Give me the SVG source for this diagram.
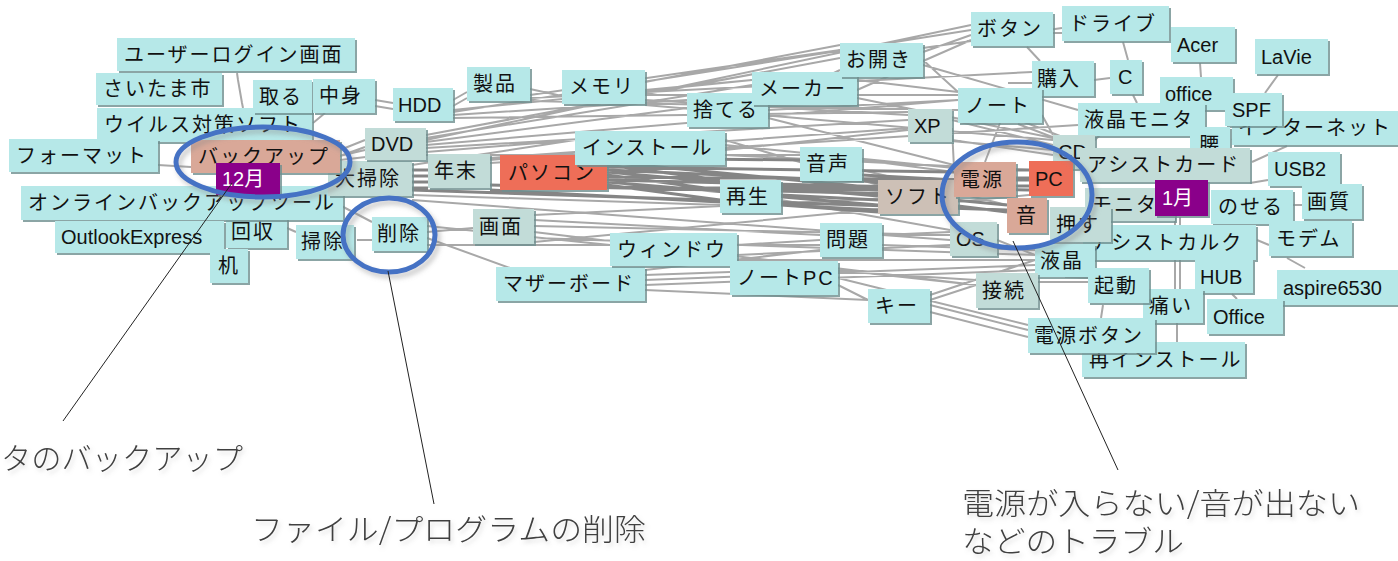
<svg xmlns="http://www.w3.org/2000/svg" width="1398" height="561" viewBox="0 0 1398 561">
<defs>
<filter id="bev" x="-5%" y="-5%" width="115%" height="130%">
<feOffset in="SourceAlpha" dx="1.5" dy="1.5" result="o"/>
<feFlood flood-color="#6f8f8f" flood-opacity="0.8"/>
<feComposite in2="o" operator="in" result="s"/>
<feMerge><feMergeNode in="s"/><feMergeNode in="SourceGraphic"/></feMerge>
</filter>
<filter id="esh" x="-10%" y="-10%" width="130%" height="140%">
<feGaussianBlur in="SourceAlpha" stdDeviation="2.5" result="b"/>
<feOffset in="b" dx="3" dy="4" result="o"/>
<feFlood flood-color="#888" flood-opacity="0.45"/>
<feComposite in2="o" operator="in" result="s"/>
<feMerge><feMergeNode in="s"/><feMergeNode in="SourceGraphic"/></feMerge>
</filter>
<filter id="tsh" x="-5%" y="-20%" width="110%" height="160%">
<feGaussianBlur in="SourceAlpha" stdDeviation="2" result="b"/>
<feOffset in="b" dx="2" dy="3" result="o"/>
<feFlood flood-color="#999" flood-opacity="0.35"/>
<feComposite in2="o" operator="in" result="s"/>
<feMerge><feMergeNode in="s"/><feMergeNode in="SourceGraphic"/></feMerge>
</filter>
</defs>
<style>
rect.c{fill:#b6e8e8;filter:url(#bev)}
rect.g{fill:#c2dcd8;filter:url(#bev)}
rect.s{fill:#d9a898;filter:url(#bev)}
rect.t{fill:#cdc0b6;filter:url(#bev)}
rect.r{fill:#ee6e58;filter:url(#bev)}
rect.p{fill:#8a008a;filter:url(#bev)}
text.l{font-family:"Liberation Sans","Noto Sans CJK JP",sans-serif;font-size:20px;fill:#111}
text.j{letter-spacing:2px}
text.w{fill:#fff}
.c1{fill:none;stroke:#a8a8a8;stroke-width:2}
.c2{fill:none;stroke:#858585;stroke-width:3}
.el{fill:none;stroke:#4472c4;stroke-width:5;filter:url(#esh)}
.cl{fill:none;stroke:#222;stroke-width:1}
text.a{font-family:"Noto Sans CJK JP",sans-serif;font-size:30px;font-weight:300;fill:#404040}
</style>
<rect x="0" y="0" width="1398" height="561" fill="#fff"/>

<g id="connectors">
<path class="c1" d="M237 73 L238 80 L242 103 L243 108 M158 165 L191 167 M325 113 L313 123 M375 100 L393 103 M375 106 L393 109 M340 150 L365 140 M340 156 L365 147 M357 240 L372 240 M330 200 L372 222 M427 232 L473 228 M427 238 L510 268 M427 226 L610 245 M287 228 L296 232 M453 100 L467 92 M453 106 L467 98 M530 89 L562 96 M426 135 L840 58 M426 138 L752 85 M426 142 L687 108 M426 145 L958 100 M426 148 L908 120 M426 152 L575 140 M453 110 L752 80 M453 112 L971 30 M453 115 L687 100 M530 95 L840 50 M530 98 L1032 72 M645 90 L752 80 M645 95 L958 95 M645 100 L908 115 M645 82 L840 45 M768 105 L840 70 M768 110 L958 100 M857 80 L958 92 M857 90 L971 40 M923 52 L971 35 M923 60 L958 92 M923 65 L1078 110 M923 48 L1062 28 M952 120 L1053 145 M952 128 L954 168 M725 140 L878 185 M725 145 L954 168 M725 150 L908 130 M725 155 L1029 170 M862 160 L954 172 M862 170 L1007 205 M781 190 L878 195 M781 200 L950 230 M534 220 L820 235 M534 226 L950 235 M534 232 L976 285 M534 238 L1035 255 M534 215 L954 195 M737 245 L820 240 M737 255 L950 245 M737 260 L1035 260 M645 275 L730 272 M645 280 L1035 265 M645 290 L868 300 M645 270 L820 250 M882 235 L950 232 M882 245 L1035 250 M838 270 L976 285 M838 278 L1028 325 M838 285 L868 300 M930 300 L976 285 M930 305 L1028 330 M930 312 L1028 337 M930 295 L1035 260 M1038 282 L1088 282 M1065 277 L1088 278 M1008 83 L1032 83 M1027 47 L1040 61 M1053 33 L1062 33 M1123 42 L1128 60 M1094 80 L1110 78 M1133 95 L1137 103 M1018 124 L1055 138 M1024 122 L1060 136 M1200 63 L1201 77 M1278 75 L1265 93 M1245 126 L1232 140 M1287 146 L1252 162 M1250 183 L1268 180 M1293 205 L1302 205 M1257 240 L1269 245 M1287 258 L1305 268 M1232 294 L1237 299 M1175 217 L1175 225 M1180 217 L1180 225 M1175 260 L1175 289 M1180 260 L1180 289 M1177 323 L1177 342 M1103 305 L1101 318 M997 240 L1035 255 M985 162 L1000 123 M1095 140 L1100 135 M340 160 L426 150 M280 170 L365 150 M412 165 L575 140 M490 158 L952 125 M490 160 L725 140 M412 195 L720 205 M426 140 L971 25 M453 118 L908 112 M530 101 L958 110 M645 105 L1053 140 M768 118 L954 165 M857 98 L1053 138 M426 155 L800 155 M490 163 L1078 125 M340 165 L412 170 M534 242 L1029 195 M737 265 L976 280 M645 285 L1035 270 M412 200 L950 240 M427 245 L820 245 M1042 115 L1053 135 M940 140 L1053 150 M952 140 L1053 155"/>
<path class="c2" d="M412 170 L428 170 M412 176 L428 176 M412 182 L428 182 M412 188 L428 188 M607 162 L878 188 M607 167 L954 172 M607 172 L878 196 M607 177 L1029 180 M607 182 L878 205 M607 187 L954 190 M607 158 L800 160 M412 190 L1007 210 M490 185 L954 195 M490 190 L878 210 M1016 170 L1029 170 M1016 178 L1029 178 M1016 186 L1029 186 M954 200 L1007 205 M958 206 L1007 212 M607 165 L720 180 M607 175 L720 190 M607 185 L720 200 M781 185 L878 190 M781 195 L878 200 M781 205 L878 212 M862 175 L954 180 M862 180 L878 183 M607 170 L954 185 M607 180 L1029 190"/>
</g>

<g id="n_ulogin"><rect class="c" x="117" y="38" width="238" height="33"/><text class="l j" x="124" y="62">ユーザーログイン画面</text></g>
<g id="n_saitama"><rect class="c" x="96" y="73" width="126" height="32"/><text class="l j" x="103" y="96">さいたま市</text></g>
<g id="n_virus"><rect class="c" x="97" y="108" width="215" height="34"/><text class="l j" x="104" y="132">ウイルス対策ソフト</text></g>
<g id="n_format"><rect class="c" x="9" y="139" width="149" height="33"/><text class="l j" x="16" y="163">フォーマット</text></g>
<g id="n_kaishu"><rect class="c" x="226" y="216" width="61" height="32"/><text class="l j" x="231" y="239">回収</text></g>
<g id="n_online"><rect class="c" x="21" y="186" width="322" height="34"/><text class="l j" x="28" y="210">オンラインバックアップツール</text></g>
<g id="n_daisouji"><rect class="g" x="328" y="161" width="84" height="35"/><text class="l j" x="335" y="186">大掃除</text></g>
<g id="n_backup"><rect class="s" x="191" y="140" width="149" height="33"/><text class="l j" x="198" y="164">バックアップ</text></g>
<g id="n_dec"><rect class="p" x="216" y="163" width="64" height="32"/><text class="l w" x="222" y="186">12月</text></g>
<g id="n_outlook"><rect class="c" x="55" y="221" width="169" height="32"/><text class="l" x="61" y="244">OutlookExpress</text></g>
<g id="n_tsukue"><rect class="c" x="210" y="249" width="38" height="34"/><text class="l j" x="218" y="273">机</text></g>
<g id="n_toru"><rect class="c" x="253" y="80" width="59" height="33"/><text class="l j" x="259" y="104">取る</text></g>
<g id="n_nakami"><rect class="c" x="313" y="79" width="62" height="34"/><text class="l j" x="319" y="103">中身</text></g>
<g id="n_hdd"><rect class="c" x="393" y="88" width="60" height="33"/><text class="l" x="398" y="112">HDD</text></g>
<g id="n_dvd"><rect class="g" x="365" y="128" width="61" height="32"/><text class="l" x="371" y="151">DVD</text></g>
<g id="n_souji"><rect class="c" x="296" y="225" width="58" height="34"/><text class="l j" x="301" y="249">掃除</text></g>
<g id="n_sakujo"><rect class="c" x="372" y="217" width="55" height="34"/><text class="l j" x="377" y="241">削除</text></g>
<g id="n_seihin"><rect class="c" x="467" y="67" width="63" height="34"/><text class="l j" x="473" y="91">製品</text></g>
<g id="n_memori"><rect class="c" x="562" y="70" width="83" height="34"/><text class="l j" x="569" y="94">メモリ</text></g>
<g id="n_nenmatsu"><rect class="g" x="428" y="154" width="62" height="34"/><text class="l j" x="434" y="178">年末</text></g>
<g id="n_pasokon"><rect class="r" x="500" y="155" width="107" height="35"/><text class="l j" x="508" y="180">パソコン</text></g>
<g id="n_gamen"><rect class="g" x="473" y="209" width="61" height="35"/><text class="l j" x="479" y="234">画面</text></g>
<g id="n_mother"><rect class="c" x="496" y="267" width="149" height="34"/><text class="l j" x="503" y="291">マザーボード</text></g>
<g id="n_window"><rect class="c" x="610" y="233" width="127" height="33"/><text class="l j" x="617" y="257">ウィンドウ</text></g>
<g id="n_install"><rect class="c" x="575" y="131" width="150" height="34"/><text class="l j" x="582" y="155">インストール</text></g>
<g id="n_suteru"><rect class="c" x="687" y="93" width="81" height="34"/><text class="l j" x="693" y="117">捨てる</text></g>
<g id="n_maker"><rect class="c" x="752" y="72" width="105" height="33"/><text class="l j" x="759" y="96">メーカー</text></g>
<g id="n_ohiraki"><rect class="c" x="840" y="43" width="83" height="34"/><text class="l j" x="846" y="67">お開き</text></g>
<g id="n_xp"><rect class="g" x="908" y="109" width="44" height="33"/><text class="l" x="914" y="133">XP</text></g>
<g id="n_onsei"><rect class="c" x="800" y="147" width="62" height="34"/><text class="l j" x="806" y="171">音声</text></g>
<g id="n_saisei"><rect class="c" x="720" y="180" width="61" height="33"/><text class="l j" x="726" y="204">再生</text></g>
<g id="n_soft"><rect class="t" x="878" y="180" width="80" height="34"/><text class="l j" x="885" y="204">ソフト</text></g>
<g id="n_mondai"><rect class="c" x="820" y="223" width="62" height="34"/><text class="l j" x="826" y="247">問題</text></g>
<g id="n_notepc"><rect class="c" x="730" y="261" width="108" height="34"/><text class="l j" x="737" y="285">ノートPC</text></g>
<g id="n_key"><rect class="c" x="868" y="289" width="62" height="34"/><text class="l j" x="875" y="313">キー</text></g>

<g id="n_button"><rect class="c" x="971" y="12" width="82" height="34"/><text class="l j" x="977" y="36">ボタン</text></g>
<g id="n_drive"><rect class="c" x="1062" y="6" width="107" height="35"/><text class="l j" x="1069" y="31">ドライブ</text></g>
<g id="n_kounyu"><rect class="c" x="1032" y="61" width="62" height="35"/><text class="l j" x="1037" y="86">購入</text></g>
<g id="n_c"><rect class="c" x="1110" y="60" width="32" height="34"/><text class="l" x="1118" y="84">C</text></g>
<g id="n_note"><rect class="c" x="958" y="88" width="84" height="35"/><text class="l j" x="965" y="113">ノート</text></g>
<g id="n_acer"><rect class="c" x="1171" y="27" width="64" height="35"/><text class="l" x="1177" y="52">Acer</text></g>
<g id="n_lavie"><rect class="c" x="1255" y="39" width="73" height="35"/><text class="l" x="1261" y="64">LaVie</text></g>
<g id="n_office"><rect class="c" x="1160" y="77" width="73" height="33"/><text class="l" x="1165" y="101">office</text></g>
<g id="n_lcdmon"><rect class="c" x="1078" y="103" width="127" height="33"/><text class="l j" x="1084" y="127">液晶モニタ</text></g>
<g id="n_internet"><rect class="c" x="1232" y="111" width="175" height="34"/><text class="l j" x="1238" y="135">インターネット</text></g>
<g id="n_spf"><rect class="c" x="1225" y="93" width="57" height="33"/><text class="l" x="1232" y="117">SPF</text></g>
<g id="n_koshi"><rect class="c" x="1190" y="127" width="40" height="34"/><text class="l j" x="1199" y="152">腰</text></g>
<g id="n_cd"><rect class="g" x="1053" y="135" width="42" height="34"/><text class="l" x="1058" y="159">CD</text></g>
<g id="n_assist"><rect class="g" x="1080" y="148" width="170" height="34"/><text class="l j" x="1087" y="172">アシストカード</text></g>
<g id="n_usb2"><rect class="c" x="1268" y="152" width="72" height="34"/><text class="l" x="1274" y="176">USB2</text></g>
<g id="n_monitor"><rect class="g" x="1085" y="188" width="90" height="33"/><text class="l j" x="1092" y="212">モニタ</text></g>
<g id="n_jan"><rect class="p" x="1155" y="180" width="53" height="36"/><text class="l w" x="1162" y="205">1月</text></g>
<g id="n_noseru"><rect class="c" x="1211" y="190" width="82" height="34"/><text class="l j" x="1218" y="214">のせる</text></g>
<g id="n_gashitsu"><rect class="c" x="1302" y="184" width="60" height="35"/><text class="l j" x="1307" y="209">画質</text></g>
<g id="n_assistcalc"><rect class="c" x="1083" y="225" width="173" height="35"/><text class="l j" x="1090" y="250">アシストカルク</text></g>
<g id="n_modem"><rect class="c" x="1269" y="221" width="83" height="35"/><text class="l j" x="1276" y="246">モデム</text></g>
<g id="n_os"><rect class="g" x="950" y="222" width="47" height="34"/><text class="l" x="956" y="246">OS</text></g>
<g id="n_dengen"><rect class="s" x="954" y="162" width="62" height="35"/><text class="l j" x="960" y="187">電源</text></g>
<g id="n_pc"><rect class="r" x="1029" y="161" width="44" height="35"/><text class="l" x="1035" y="186">PC</text></g>
<g id="n_oto"><rect class="s" x="1007" y="198" width="40" height="35"/><text class="l j" x="1016" y="223">音</text></g>
<g id="n_osu"><rect class="g" x="1050" y="207" width="61" height="35"/><text class="l j" x="1056" y="232">押す</text></g>
<g id="n_ekisho"><rect class="c" x="1035" y="244" width="60" height="33"/><text class="l j" x="1040" y="268">液晶</text></g>
<g id="n_hub"><rect class="c" x="1195" y="260" width="58" height="33"/><text class="l" x="1200" y="284">HUB</text></g>
<g id="n_aspire"><rect class="c" x="1277" y="270" width="121" height="35"/><text class="l" x="1283" y="295">aspire6530</text></g>
<g id="n_setsuzoku"><rect class="g" x="976" y="273" width="62" height="35"/><text class="l j" x="982" y="298">接続</text></g>
<g id="n_itai"><rect class="c" x="1143" y="289" width="60" height="34"/><text class="l j" x="1149" y="313">痛い</text></g>
<g id="n_kidou"><rect class="c" x="1088" y="268" width="61" height="35"/><text class="l j" x="1094" y="293">起動</text></g>
<g id="n_office2"><rect class="c" x="1207" y="299" width="76" height="35"/><text class="l" x="1213" y="324">Office</text></g>
<g id="n_reinstall"><rect class="c" x="1082" y="342" width="163" height="35"/><text class="l j" x="1089" y="367">再インストール</text></g>
<g id="n_dengenbutton"><rect class="c" x="1028" y="318" width="127" height="35"/><text class="l j" x="1034" y="343">電源ボタン</text></g>

<g id="highlights">
<ellipse class="el" cx="263" cy="162" rx="87" ry="35"/>
<ellipse class="el" cx="389" cy="235" rx="46" ry="37"/>
<ellipse class="el" cx="1017" cy="195" rx="75" ry="53"/>
</g>

<g id="callouts">
<line class="cl" x1="232" y1="183" x2="63" y2="421"/>
<line class="cl" x1="388" y1="271" x2="434" y2="504"/>
<line class="cl" x1="1013" y1="241" x2="1118" y2="470"/>
<text class="a" x="1" y="469" textLength="242" lengthAdjust="spacingAndGlyphs" filter="url(#tsh)">タのバックアップ</text>
<text class="a" x="251" y="540" textLength="395" lengthAdjust="spacingAndGlyphs" filter="url(#tsh)">ファイル/プログラムの削除</text>
<text class="a" x="962" y="514" textLength="398" lengthAdjust="spacingAndGlyphs" filter="url(#tsh)">電源が入らない/音が出ない</text>
<text class="a" x="962" y="552" textLength="222" lengthAdjust="spacingAndGlyphs" filter="url(#tsh)">などのトラブル</text>
</g>
</svg>
